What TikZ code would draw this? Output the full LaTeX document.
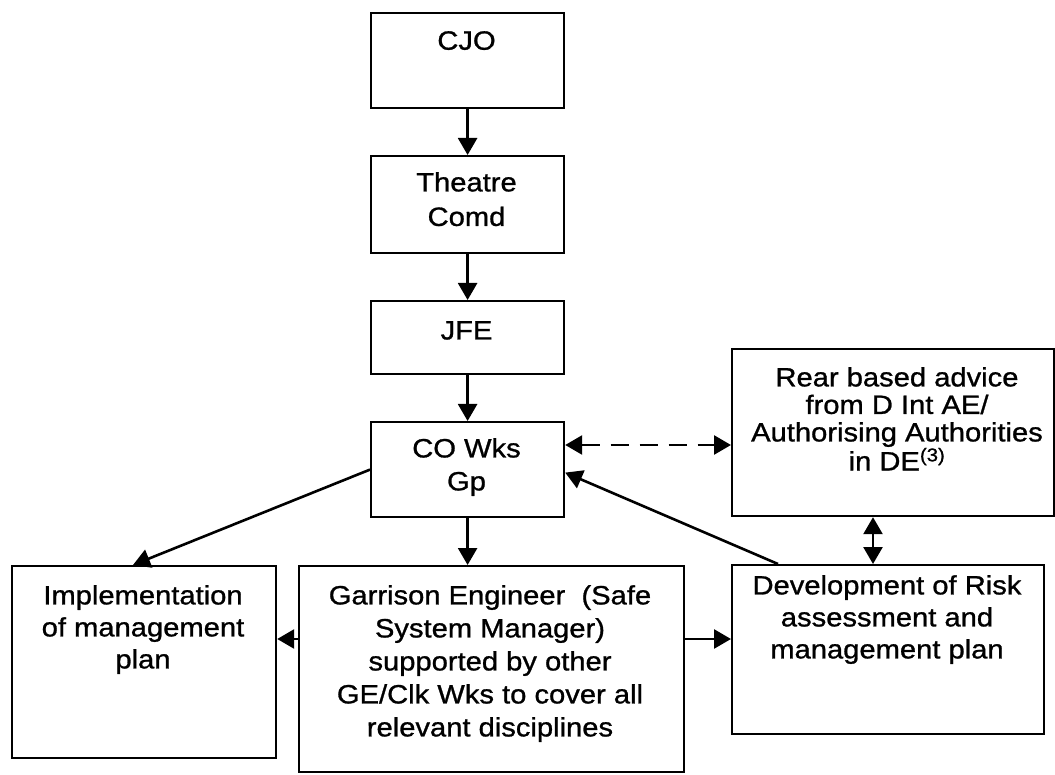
\documentclass[tikz,border=0pt]{standalone}
\usepackage{fontspec}
\setmainfont{Liberation Sans}[FakeStretch=1.1,FakeBold=1]
\usetikzlibrary{arrows.meta,calc}
\tikzset{
  box/.style={draw, line width=2.2pt, inner sep=0pt, anchor=north west},
  txt/.style={anchor=north, inner sep=0pt, align=center},
  arr/.style={line width=2.6pt, -{Triangle[length=17pt,width=19pt]}},
  darr/.style={line width=2.6pt, {Triangle[length=17pt,width=19pt]}-{Triangle[length=17pt,width=19pt]}},
  dsh/.style={dash pattern=on 18pt off 11pt}
}
\newcommand{\fsA}{\fontsize{26.5}{33}\selectfont}
\newcommand{\fsB}{\fontsize{26.5}{34.5}\selectfont}
\newcommand{\fsC}{\fontsize{26.5}{27.5}\selectfont}
\newcommand{\fsD}{\fontsize{26.5}{32}\selectfont}
\begin{document}
\begin{tikzpicture}[x=1pt,y=-1pt]
\useasboundingbox (0,0) rectangle (1055,775);
% boxes
\node[box, minimum width=193pt, minimum height=95pt] (cjo) at (370,12) {};
\node[box, minimum width=193pt, minimum height=97pt] (thc) at (370,155) {};
\node[box, minimum width=193pt, minimum height=73pt] (jfe) at (370,300) {};
\node[box, minimum width=193pt, minimum height=95pt] (cow) at (370,421) {};
\node[box, minimum width=322pt, minimum height=167pt] (rear) at (731,348) {};
\node[box, minimum width=264pt, minimum height=192pt] (impl) at (11,565) {};
\node[box, minimum width=385pt, minimum height=206pt] (ge) at (298,565) {};
\node[box, minimum width=312pt, minimum height=169pt] (dev) at (731,564) {};
% texts
\node[txt, font=\fsA] (cjo-t) at (466.5,31) {CJO};
\node[txt, font=\fsB] (thc-t) at (466.5,172) {Theatre\\Comd};
\node[txt, font=\fsA] (jfe-t) at (466.5,321) {JFE};
\node[txt, font=\fsA] (cow-t) at (466.5,438) {CO Wks\\Gp};
\node[txt, font=\fsC] (rear-t) at (897,367) {Rear based advice\\from D Int AE/\\Authorising Authorities\\in DE\textsuperscript{(3)}};
\node[txt, font=\fsD] (impl-t) at (143,585) {Implementation\\of management\\plan};
\node[txt, font=\fsA] (ge-t) at (490,585) {Garrison Engineer\ \ (Safe\\System Manager)\\supported by other\\GE/Clk Wks to cover all\\relevant disciplines};
\node[txt, font=\fsD] (dev-t) at (887,575) {Development of Risk\\assessment and\\management plan};
% connectors
\draw[arr] (cjo.south) -- (thc.north);
\draw[arr] (thc.south) -- (jfe.north);
\draw[arr] (jfe.south) -- (cow.north);
\draw[arr] (cow.south) -- (cow.south |- ge.north);
\draw[darr, dsh] ($(cow.north east)+(0,24)$) coordinate (d1) -- (d1 -| rear.west);
\draw[arr] (cow.west) -- ($(impl.north west)+(122,0)$);
\draw[arr] ($(dev.north west)+(47,0)$) -- ($(cow.east)+(0,3)$);
\draw[darr] ($(rear.south west)+(142,0)$) -- ($(dev.north west)+(142,0)$);
\draw[arr] ($(ge.north west)+(0,74)$) coordinate (g1) -- (g1 -| impl.east);
\draw[arr] ($(ge.north east)+(0,74)$) coordinate (g2) -- (g2 -| dev.west);
\end{tikzpicture}
\end{document}
